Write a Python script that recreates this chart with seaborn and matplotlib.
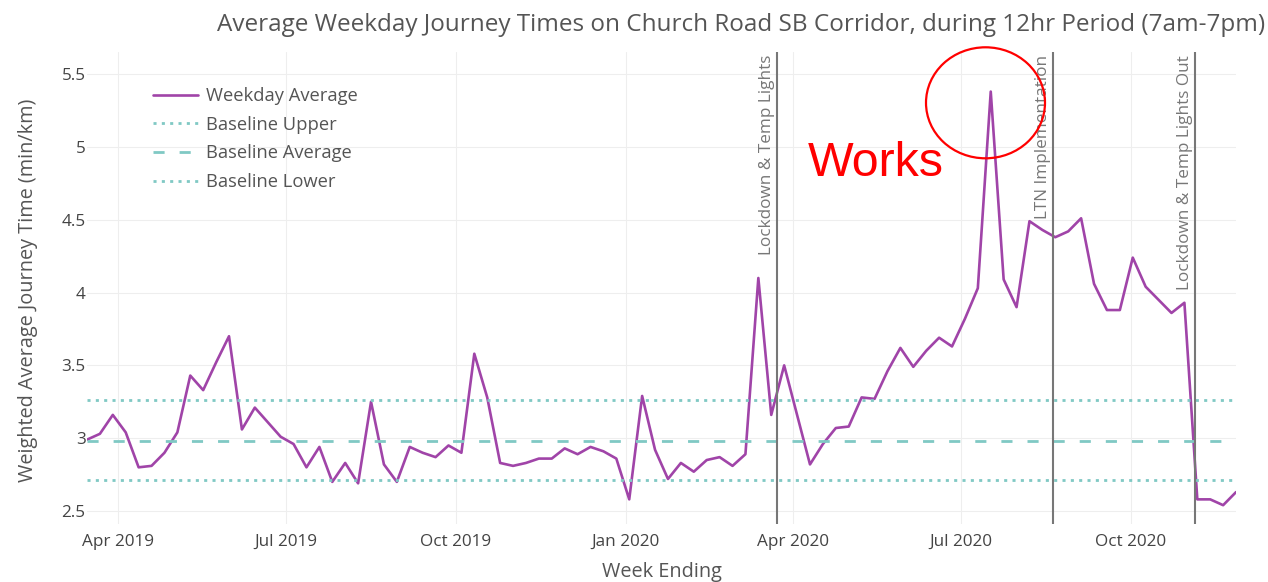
import pandas as pd
import matplotlib.pyplot as plt
import matplotlib.dates as mdates
from matplotlib.lines import Line2D
from matplotlib.patches import Ellipse
import seaborn as sns


# weekly journey times (min/km), week ending Fridays from 15 Mar 2019
week_start = '2019-03-15'
weekday_average = [
    2.99, 3.03, 3.16, 3.04, 2.80, 2.81, 2.90, 3.04, 3.43, 3.33,
    3.52, 3.70, 3.06, 3.21, 3.11, 3.01, 2.96, 2.80, 2.94, 2.70,
    2.83, 2.69, 3.25, 2.82, 2.70, 2.94, 2.90, 2.87, 2.95, 2.90,
    3.58, 3.28, 2.83, 2.81, 2.83, 2.86, 2.86, 2.93, 2.89, 2.94,
    2.91, 2.86, 2.58, 3.29, 2.92, 2.72, 2.83, 2.77, 2.85, 2.87,
    2.81, 2.89, 4.10, 3.16, 3.50, 3.16, 2.82, 2.96, 3.07, 3.08,
    3.28, 3.27, 3.46, 3.62, 3.49, 3.60, 3.69, 3.63, 3.82, 4.03,
    5.38, 4.09, 3.90, 4.49, 4.43, 4.38, 4.42, 4.51, 4.06, 3.88,
    3.88, 4.24, 4.04, 3.95, 3.86, 3.93, 2.58, 2.58, 2.54, 2.63,
]
baseline_upper = 3.26
baseline_average = 2.98
baseline_lower = 2.71

event_dates = ['2020-03-23', '2020-08-20', '2020-11-05']
event_labels = ['Lockdown & Temp Lights', 'LTN Implementation', 'Lockdown & Temp Lights Out']

data = pd.DataFrame({
    'week': pd.date_range(week_start, periods=len(weekday_average), freq='7D'),
    'time': weekday_average,
})

sns.set_style('whitegrid', {'grid.color': '#eeeeee', 'axes.edgecolor': 'white'})
plt.rcParams['font.family'] = ['Open Sans', 'DejaVu Sans']

purple = '#a044a8'
teal = '#80c9c4'
grey_text = '#555555'

fig = plt.figure(figsize=(12.68, 5.82), dpi=100)
ax = fig.add_axes([0.0686, 0.0997, 0.9062, 0.811])

sns.lineplot(data=data, x='week', y='time', ax=ax, color=purple, lw=1.9)
ax.axhline(baseline_upper, color=teal, lw=2, ls=(0, (1.1, 1.9)))
ax.axhline(baseline_average, color=teal, lw=2, ls=(0, (4, 5.4)))
ax.axhline(baseline_lower, color=teal, lw=2, ls=(0, (1.1, 1.9)))

for d, lab in zip(event_dates, event_labels):
    d = pd.Timestamp(d)
    ax.axvline(d, color='#777777', lw=1.5)
    ax.annotate(lab, xy=(d, 1), xycoords=('data', 'axes fraction'),
                xytext=(-1.5, -2), textcoords='offset points',
                rotation=90, ha='right', va='top', fontsize=12.3, color='#777777')

ax.set_xlim(data['week'].iloc[0], data['week'].iloc[-1])
ax.set_ylim(2.411, 5.652)
ax.set_yticks([2.5, 3, 3.5, 4, 4.5, 5, 5.5])
ax.set_yticklabels(['2.5', '3', '3.5', '4', '4.5', '5', '5.5'])
ax.xaxis.set_major_locator(mdates.MonthLocator(bymonth=[1, 4, 7, 10]))
ax.xaxis.set_major_formatter(mdates.DateFormatter('%b %Y'))
ax.tick_params(axis='both', length=0, labelsize=12.3, labelcolor='#444444')
ax.tick_params(axis='y', pad=1)
ax.tick_params(axis='x', pad=7)
for s in ax.spines.values():
    s.set_visible(False)

ax.set_xlabel('Week Ending', fontsize=14.3, color=grey_text, va='center')
ax.set_ylabel('Weighted Average Journey Time (min/km)', fontsize=14.3, color=grey_text, va='center')
ax.xaxis.set_label_coords(0.5, -0.1017)
ax.yaxis.set_label_coords(-0.0509, 0.496)

fig.text(741 / 1268, 1 - 25 / 582,
         'Average Weekday Journey Times on Church Road SB Corridor, during 12hr Period (7am-7pm)',
         ha='center', va='center', fontsize=17.5, color=grey_text)

handles = [
    Line2D([], [], color=purple, lw=1.9),
    Line2D([], [], color=teal, lw=2, ls=(0, (1.1, 1.9))),
    Line2D([], [], color=teal, lw=2, ls=(0, (4, 5.4))),
    Line2D([], [], color=teal, lw=2, ls=(0, (1.1, 1.9))),
]
labels = ['Weekday Average', 'Baseline Upper', 'Baseline Average', 'Baseline Lower']
leg = ax.legend(handles, labels, loc='upper left', bbox_to_anchor=(144 / 1268, 1 - 78 / 582),
                bbox_transform=fig.transFigure, frameon=False, borderpad=0,
                fontsize=13.2, handlelength=2.45, handletextpad=0.45, labelspacing=0.58)
for t in leg.get_texts():
    t.set_color(grey_text)

fig.text(808 / 1268, 1 - 163 / 582, 'Works', fontsize=34.8, color='red',
         family='Liberation Sans', ha='left', va='center')
fig.add_artist(Ellipse((985.5 / 1268, 1 - 102.8 / 582), 119 / 1268, 111 / 582,
                       transform=fig.transFigure, fill=False, edgecolor='red', lw=1.6))

plt.savefig('out.png', dpi=100)
